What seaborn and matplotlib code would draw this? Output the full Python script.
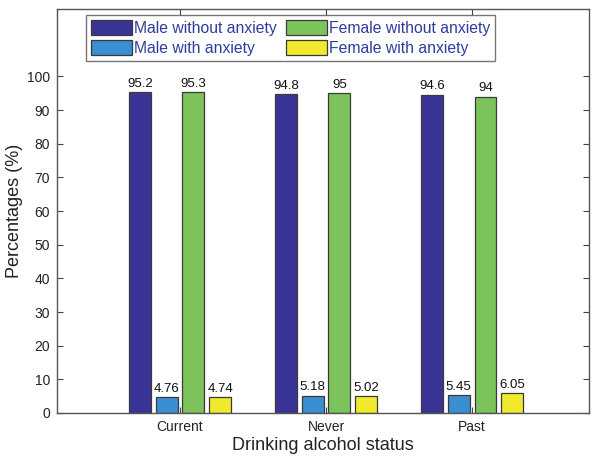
import matplotlib
matplotlib.use("Agg")
import matplotlib.pyplot as plt
import seaborn as sns
import pandas as pd

categories = ["Current", "Never", "Past"]
groups = ["Male without anxiety", "Male with anxiety", "Female without anxiety", "Female with anxiety"]
male_without = [95.2, 94.8, 94.6]
male_with = [4.76, 5.18, 5.45]
female_without = [95.3, 95, 94]
female_with = [4.74, 5.02, 6.05]
colors = ["#3b3497", "#3a8fd2", "#7dc35b", "#f0e92c"]

rows = []
for g, vals in zip(groups, [male_without, male_with, female_without, female_with]):
    for c, v in zip(categories, vals):
        rows.append({"status": c, "group": g, "value": v})
df = pd.DataFrame(rows)

sns.set_style("white")
plt.rcParams["font.family"] = ["Liberation Sans", "DejaVu Sans"]

fig = plt.figure(figsize=(5.91, 4.58), dpi=100)
ax = fig.add_axes([57/591, 45/458, 532/591, 404/458])

sns.barplot(data=df, x="status", y="value", hue="group", order=categories,
            hue_order=groups, palette=colors, saturation=1, width=0.733, gap=0.18,
            edgecolor="#3a3a3a", linewidth=0.9, ax=ax, errorbar=None)

for cont in ax.containers:
    ax.bar_label(cont, fmt="%g", padding=1.5, fontsize=9.5, color="#111111")

ax.set_xlim(-0.842, 2.80)
ax.set_ylim(0, 120)
ax.set_yticks(range(0, 101, 10))
ax.set_xticks(range(len(categories)))
ax.set_xticklabels(categories)
ax.set_xlabel("Drinking alcohol status", fontsize=13, color="#222222", labelpad=2)
ax.set_ylabel("Percentages (%)", fontsize=13, color="#222222", labelpad=3)
ax.tick_params(axis="both", which="both", direction="in", length=4, width=0.8,
               colors="#444444", labelcolor="#222222", labelsize=10,
               top=True, right=True, bottom=True, left=True, pad=5)
for s in ax.spines.values():
    s.set_visible(True)
    s.set_color("#555555")
    s.set_linewidth(1.0)

handles, labels = ax.get_legend_handles_labels()
leg = ax.legend(handles, labels, ncol=2, loc="upper left",
                bbox_to_anchor=(0.0545, 0.985), borderaxespad=0,
                fontsize=11.3, handlelength=2.6, handleheight=1.1,
                handletextpad=0.15, columnspacing=0.6, labelspacing=0.3,
                borderpad=0.3, fancybox=False, frameon=True, labelcolor="#2f3c9e")
leg.get_frame().set_edgecolor("#555555")
leg.get_frame().set_linewidth(1.0)

fig.savefig("out.png", dpi=100)
